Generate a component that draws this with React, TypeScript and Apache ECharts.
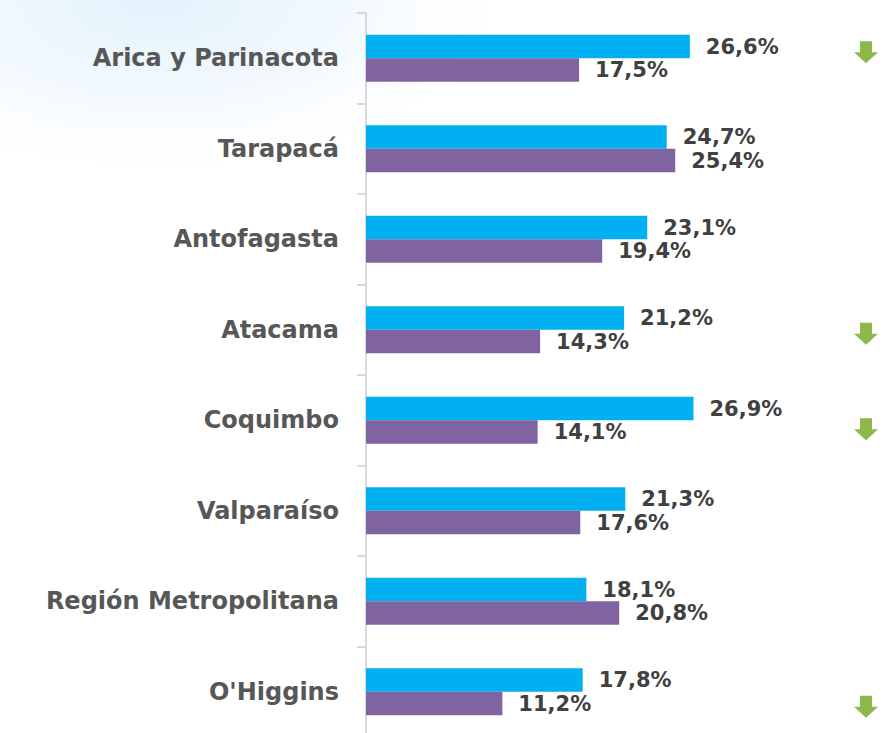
import React, { useEffect, useRef } from "react";
import * as echarts from "echarts";

const categories = [
  "Arica y Parinacota",
  "Tarapacá",
  "Antofagasta",
  "Atacama",
  "Coquimbo",
  "Valparaíso",
  "Región Metropolitana",
  "O'Higgins",
];
const seriesA = [26.6, 24.7, 23.1, 21.2, 26.9, 21.3, 18.1, 17.8];
const seriesB = [17.5, 25.4, 19.4, 14.3, 14.1, 17.6, 20.8, 11.2];
const arrowCategories = ["Arica y Parinacota", "Atacama", "Coquimbo", "O'Higgins"];

// style-only: vertical offsets of arrow icons relative to row centre
const ARROW_DY: Record<string, number> = {
  "Arica y Parinacota": -17,
  Atacama: -7,
  Coquimbo: -2,
  "O'Higgins": 4,
};

const fmt = (v: number) => v.toFixed(1).replace(".", ",") + "%";

export default function App() {
  const ref = useRef<HTMLDivElement>(null);
  useEffect(() => {
    document.body.style.margin = "0";
    const chart = echarts.init(ref.current!, null, { renderer: "svg" });
    const labelStyle = {
      show: true,
      position: "right" as const,
      distance: 16,
      fontFamily: "DejaVu Sans",
      fontWeight: "bold" as const,
      fontSize: 21,
      color: "#404040",
      formatter: (p: any) => fmt(p.value),
    };
    chart.setOption({
      animation: false,
      backgroundColor: "#ffffff",
      grid: {
        left: 366,
        top: 13,
        width: 487,
        height: 724,
        containLabel: false,
        outerBoundsMode: "none",
      },
      xAxis: {
        type: "value",
        min: 0,
        max: 40,
        show: false,
        splitLine: { show: false },
      },
      yAxis: {
        type: "category",
        inverse: true,
        data: categories,
        axisLine: { show: true, lineStyle: { color: "#D9D9D9", width: 2 } },
        axisTick: { show: true, length: 9, lineStyle: { color: "#D9D9D9", width: 2 } },
        axisLabel: {
          margin: 27,
          fontFamily: "DejaVu Sans",
          fontWeight: "bold",
          fontSize: 24,
          color: "#575757",
        },
      },
      series: [
        {
          type: "bar",
          data: seriesA,
          barWidth: 23.5,
          barGap: "0%",
          itemStyle: { color: "#00B0F0" },
          label: labelStyle,
        },
        {
          type: "bar",
          data: seriesB,
          barWidth: 23.5,
          barGap: "0%",
          itemStyle: { color: "#8064A2" },
          label: labelStyle,
        },
      ],
    });

    const arrows = arrowCategories.map((c) => {
      const y = chart.convertToPixel({ yAxisIndex: 0 }, c) as number;
      const top = y + ARROW_DY[c];
      const cx = 866;
      return {
        type: "polygon",
        z: 10,
        shape: {
          points: [
            [cx - 6, top],
            [cx + 6, top],
            [cx + 6, top + 11],
            [cx + 12, top + 11],
            [cx, top + 22],
            [cx - 12, top + 11],
            [cx - 6, top + 11],
          ],
        },
        style: { fill: "#8DB84A" },
      };
    });

    chart.setOption({
      graphic: [
        {
          type: "rect",
          z: -10,
          silent: true,
          shape: { x: 0, y: 0, width: 520, height: 260 },
          style: {
            fill: new echarts.graphic.RadialGradient(0.3, 0, 0.7, [
              { offset: 0, color: "rgba(226,242,252,1)" },
              { offset: 0.55, color: "rgba(240,248,254,0.8)" },
              { offset: 1, color: "rgba(255,255,255,0)" },
            ]),
          },
        },
        ...arrows,
      ],
    });

    return () => chart.dispose();
  }, []);
  return <div ref={ref} style={{ width: 885, height: 733 }} />;
}
